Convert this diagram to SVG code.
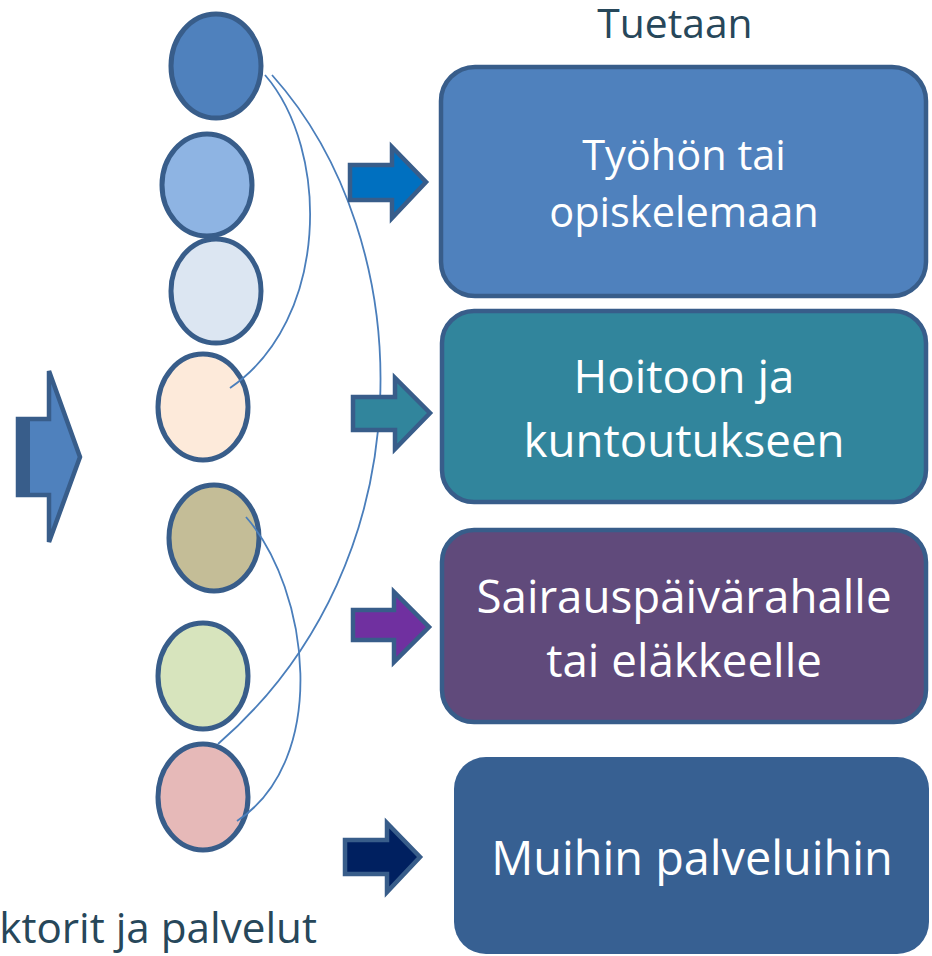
<svg xmlns="http://www.w3.org/2000/svg" width="932" height="956" viewBox="0 0 932 956">
<style>
.c{stroke:#385d8a;stroke-width:5}
.b{stroke:#385d8a;stroke-width:4.5}
.a{stroke:#385d8a;stroke-width:4.5;stroke-linejoin:miter}
.l{fill:none;stroke:#4a7ebb;stroke-width:1.8}
.t{font-family:"Open Sans","Noto Sans",sans-serif;fill:#ffffff;text-anchor:middle}
.h{font-family:"Open Sans","Noto Sans",sans-serif;fill:#27475a}
</style>
<rect width="932" height="956" fill="#ffffff"/>
<g id="input-arrow">
<polygon class="a" points="18,419 49,419 49,371 80,457 49,542 49,495 18,495" fill="#4f81bd"/>
<rect x="16" y="417" width="14" height="80" fill="#385d8a"/>
</g>
<g id="circle1"><ellipse class="c" cx="216" cy="66" rx="45" ry="52" fill="#4f81bd"/></g>
<g id="circle2"><ellipse class="c" cx="207" cy="185" rx="45" ry="51" fill="#8eb4e3"/></g>
<g id="circle3"><ellipse class="c" cx="216" cy="291" rx="45" ry="52" fill="#dce6f2"/></g>
<g id="circle4"><ellipse class="c" cx="203" cy="407" rx="45" ry="53" fill="#fdeada"/></g>
<g id="circle5"><ellipse class="c" cx="214" cy="538" rx="45" ry="53" fill="#c4bd97"/></g>
<g id="circle6"><ellipse class="c" cx="203" cy="676" rx="45" ry="53" fill="#d7e4bd"/></g>
<g id="circle7"><ellipse class="c" cx="203" cy="797" rx="45" ry="53" fill="#e6b9b8"/></g>
<g id="connectors">
<path class="l" d="M265,75 C330,150 330,320 230,388"/>
<path class="l" d="M272,75 C420,240 430,560 218,744"/>
<path class="l" d="M246,517 C310,590 330,760 237,821"/>
</g>
<g id="arrow1"><polygon class="a" points="350,165 392,165 392,147 426,182 392,218 392,200 350,200" fill="#0070c0"/></g>
<g id="arrow2"><polygon class="a" points="353,397 395,397 395,378 430,413 395,449 395,430 353,430" fill="#31859c"/></g>
<g id="arrow3"><polygon class="a" points="353,610 394,610 394,592 429,627 394,662 394,640 353,640" fill="#7030a0"/></g>
<g id="arrow4"><polygon class="a" points="345,840 387,840 387,823 420,857 387,892 387,874 345,874" fill="#002060"/></g>
<g id="title"><text class="h" x="675" y="38" font-size="40.8" text-anchor="middle">Tuetaan</text></g>
<g id="label-left"><text class="h" x="317" y="943" font-size="42.2" text-anchor="end">ktorit ja palvelut</text></g>
<g id="box1">
<rect class="b" x="441" y="67" width="485" height="229" rx="34" fill="#4f81bd"/>
<text class="t" x="684" y="170" font-size="41.5">Työhön tai</text>
<text class="t" x="684" y="227" font-size="41.5">opiskelemaan</text>
</g>
<g id="box2">
<rect class="b" x="442" y="311" width="484" height="191" rx="32" fill="#31859c"/>
<text class="t" x="684" y="393" font-size="45.7">Hoitoon ja</text>
<text class="t" x="684" y="457" font-size="45.7">kuntoutukseen</text>
</g>
<g id="box3">
<rect class="b" x="442" y="530" width="484" height="192" rx="32" fill="#604a7b"/>
<text class="t" x="684" y="613" font-size="45.7">Sairauspäivärahalle</text>
<text class="t" x="684" y="677" font-size="45.7">tai eläkkeelle</text>
</g>
<g id="box4">
<rect x="454" y="757" width="475" height="197" rx="32" fill="#376092"/>
<text class="t" x="692" y="875" font-size="46.8">Muihin palveluihin</text>
</g>
</svg>
